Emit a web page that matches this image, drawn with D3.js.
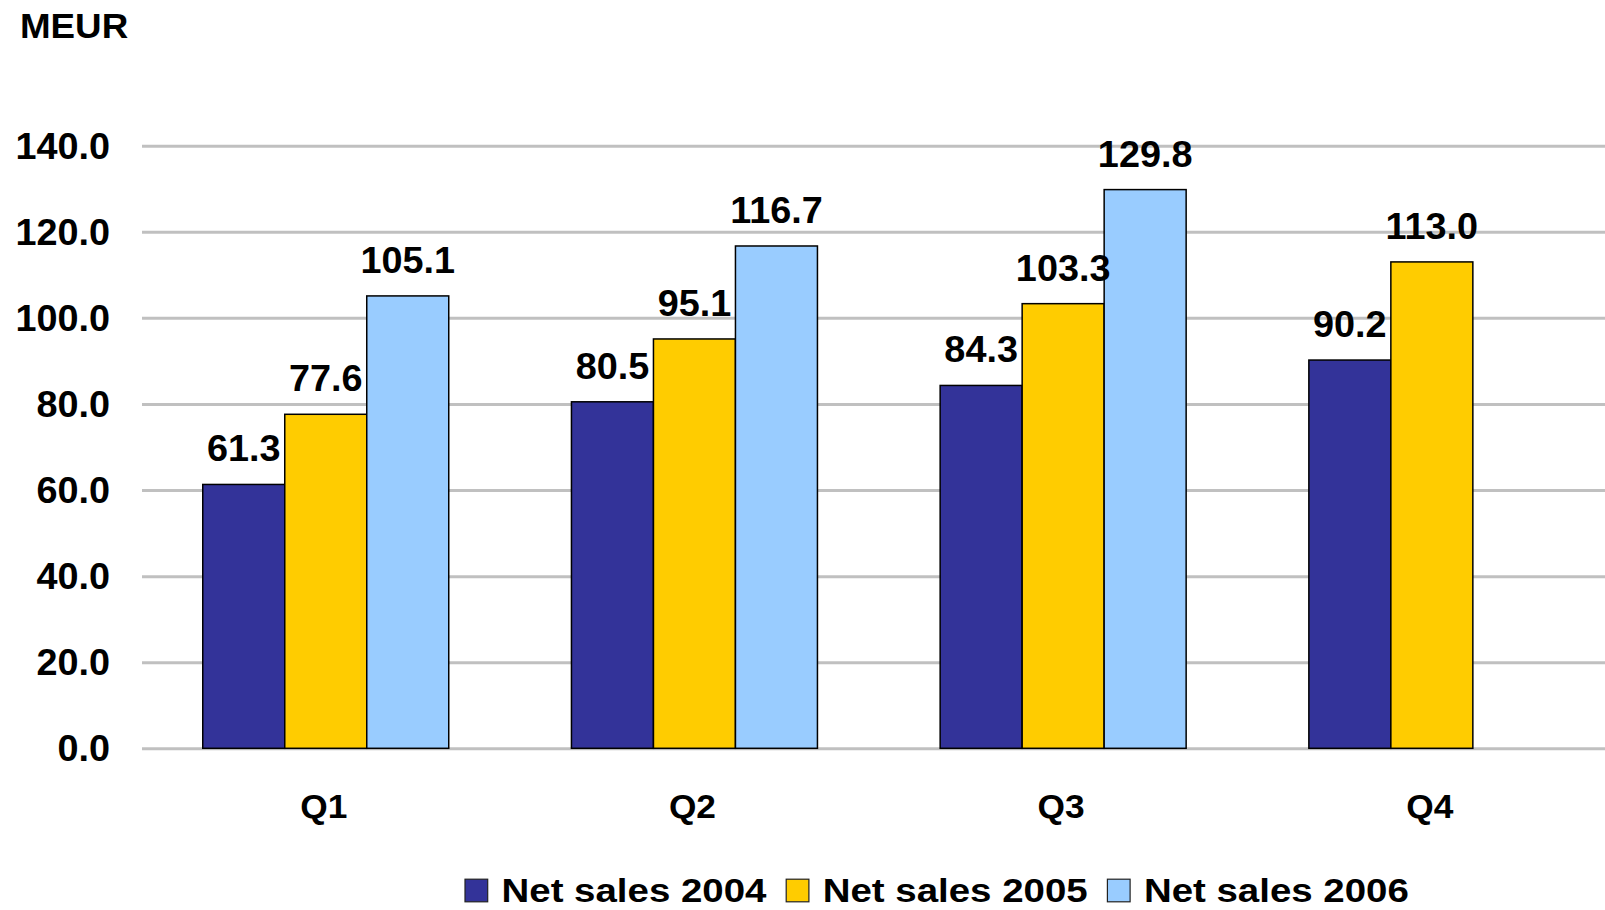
<!DOCTYPE html>
<html>
<head>
<meta charset="utf-8">
<script src="https://cdn.jsdelivr.net/npm/d3@7"></script>
<style>
  html, body { margin: 0; padding: 0; background: #ffffff; }
  svg { display: block; }
  text { font-family: "Liberation Sans", Arial, Helvetica, sans-serif; font-weight: bold; fill: #000; }
</style>
</head>
<body>
<svg id="chart" width="1605" height="910"></svg>
<script>
const categories = ["Q1", "Q2", "Q3", "Q4"];
const seriesNames = ["Net sales 2004", "Net sales 2005", "Net sales 2006"];
const sales2004 = [61.3, 80.5, 84.3, 90.2];
const sales2005 = [77.6, 95.1, 103.3, 113.0];
const sales2006 = [105.1, 116.7, 129.8, null];
const seriesColors = ["#333399", "#FFCC00", "#99CCFF"];
const tickValues = [0, 20, 40, 60, 80, 100, 120, 140];
const unitLabel = "MEUR";

const seriesValues = [sales2004, sales2005, sales2006];

const svg = d3.select("#chart");

const y = d3.scaleLinear().domain([0, 140]).range([748.3, 145.7]);
const x = d3.scaleBand().domain(categories).range([141.4, 1616.2])
  .paddingInner(0.3328).paddingOuter(0.1664);
const xs = d3.scaleBand().domain(d3.range(seriesNames.length)).range([0, x.bandwidth()]);

function stretch(sel, k) {
  sel.each(function() {
    const t = d3.select(this);
    const tx = +t.attr("data-x"), ty = +t.attr("data-y");
    t.attr("transform", `translate(${tx},${ty}) scale(${k},1)`);
  });
}

// Grid + y axis labels
const yAxis = d3.axisLeft(y).tickValues(tickValues).tickFormat(d => d.toFixed(1))
  .tickSize(-(1616 - 142)).tickPadding(0);
const gy = svg.append("g").attr("transform", "translate(142,0)").call(yAxis);
gy.select(".domain").remove();
gy.selectAll(".tick line").attr("stroke", "#C0C0C0").attr("stroke-width", 3);
gy.selectAll(".tick text").remove();

svg.append("g").selectAll("text").data(tickValues).join("text")
  .attr("data-x", 110).attr("data-y", d => y(d) + 12.8)
  .attr("text-anchor", "end").style("font-size", "36px")
  .text(d => d.toFixed(1))
  .call(stretch, 1.05);

// Bars
const groups = svg.append("g").selectAll("g").data(categories).join("g")
  .attr("transform", d => `translate(${x(d)},0)`);

groups.selectAll("rect")
  .data((c, i) => seriesValues.map((s, j) => ({ j, v: s[i] })).filter(d => d.v != null))
  .join("rect")
  .attr("x", d => xs(d.j))
  .attr("width", xs.bandwidth())
  .attr("y", d => y(d.v))
  .attr("height", d => y(0) - y(d.v))
  .attr("fill", d => seriesColors[d.j])
  .attr("stroke", "#000")
  .attr("stroke-width", 1.5);

groups.selectAll("text.val")
  .data((c, i) => seriesValues.map((s, j) => ({ j, v: s[i] })).filter(d => d.v != null))
  .join("text").attr("class", "val")
  .attr("data-x", d => xs(d.j) + xs.bandwidth() / 2)
  .attr("data-y", d => y(d.v) - 23)
  .attr("text-anchor", "middle").style("font-size", "36px")
  .text(d => d.v.toFixed(1))
  .call(stretch, 1.05);

// Category labels
svg.append("g").selectAll("text").data(categories).join("text")
  .attr("data-x", d => x(d) + x.bandwidth() / 2 - 2)
  .attr("data-y", 818.3)
  .attr("text-anchor", "middle").style("font-size", "33px")
  .text(d => d)
  .call(stretch, 1.07);

// Unit label
svg.append("text")
  .attr("data-x", 20).attr("data-y", 38.3)
  .style("font-size", "35px").text(unitLabel)
  .call(stretch, 1.05);

// Legend
const legend = svg.append("g").selectAll("g").data(seriesNames).join("g")
  .attr("transform", (d, i) => `translate(${465 + i * 321.2},0)`);
legend.append("rect")
  .attr("x", 0).attr("y", 879.2).attr("width", 22.7).attr("height", 22.6)
  .attr("fill", (d, i) => seriesColors[i])
  .attr("stroke", "#222").attr("stroke-width", 1.2);
legend.append("text")
  .attr("data-x", 36.5).attr("data-y", 901.8)
  .style("font-size", "33px").text(d => d)
  .call(stretch, 1.165);
</script>
</body>
</html>
